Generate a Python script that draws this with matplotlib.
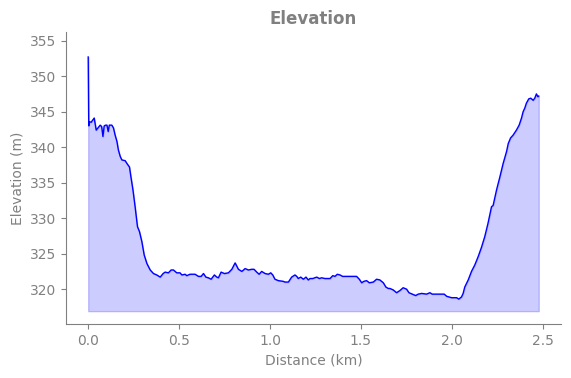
import matplotlib
matplotlib.use('Agg')
import matplotlib.pyplot as plt

# distance (km) and elevation (m)
dist_km = [
    0.000, 0.003, 0.006, 0.016, 0.033, 0.044, 0.057, 0.066, 0.074, 0.081,
    0.088, 0.096, 0.103, 0.110, 0.116, 0.130, 0.139, 0.148, 0.158, 0.166,
    0.176, 0.185, 0.203, 0.213, 0.227, 0.235, 0.246, 0.258, 0.271, 0.282,
    0.295, 0.308, 0.323, 0.341, 0.359, 0.377, 0.396, 0.412, 0.423, 0.441,
    0.456, 0.469, 0.487, 0.505, 0.515, 0.533, 0.542, 0.560, 0.588, 0.606,
    0.621, 0.634, 0.647, 0.661, 0.676, 0.694, 0.707, 0.716, 0.731, 0.749,
    0.771, 0.790, 0.808, 0.826, 0.845, 0.863, 0.881, 0.899, 0.912, 0.927,
    0.940, 0.954, 0.973, 0.991, 1.004, 1.015, 1.027, 1.046, 1.073, 1.082,
    1.101, 1.119, 1.137, 1.147, 1.155, 1.169, 1.183, 1.198, 1.210, 1.220,
    1.235, 1.257, 1.271, 1.284, 1.302, 1.330, 1.345, 1.357, 1.370, 1.385,
    1.399, 1.476, 1.491, 1.504, 1.516, 1.531, 1.546, 1.568, 1.586, 1.604,
    1.623, 1.637, 1.650, 1.659, 1.677, 1.696, 1.714, 1.732, 1.751, 1.764,
    1.782, 1.801, 1.815, 1.834, 1.861, 1.879, 1.892, 1.907, 1.958, 1.971,
    1.998, 2.026, 2.038, 2.053, 2.062, 2.071, 2.090, 2.108, 2.126, 2.145,
    2.163, 2.181, 2.199, 2.218, 2.227, 2.246, 2.264, 2.282, 2.301, 2.310,
    2.323, 2.337, 2.355, 2.370, 2.383, 2.392, 2.401, 2.410, 2.423, 2.434,
    2.447, 2.456, 2.465, 2.473, 2.478,
]
elev_m = [
    352.7, 343.0, 343.6, 343.5, 344.1, 342.4, 342.8, 343.1, 342.9, 341.5,
    343.0, 343.1, 343.1, 342.2, 343.1, 343.1, 342.7, 341.7, 340.8, 339.6,
    338.7, 338.2, 338.1, 337.7, 337.2, 335.8, 334.0, 331.6, 328.8, 328.1,
    326.7, 324.8, 323.6, 322.7, 322.2, 322.0, 321.7, 322.2, 322.4, 322.3,
    322.7, 322.7, 322.3, 322.3, 322.0, 322.1, 321.9, 322.1, 322.1, 321.8,
    321.8, 322.2, 321.7, 321.6, 321.4, 322.0, 321.7, 321.6, 322.4, 322.2,
    322.3, 322.8, 323.7, 322.8, 322.5, 322.9, 322.7, 322.8, 322.8, 322.4,
    322.1, 322.5, 322.2, 322.1, 322.3, 322.0, 321.4, 321.2, 321.1, 321.0,
    321.0, 321.7, 322.0, 321.8, 321.5, 321.7, 321.4, 321.7, 321.3, 321.5,
    321.5, 321.7, 321.5, 321.6, 321.5, 321.5, 321.9, 321.8, 322.1, 322.0,
    321.8, 321.8, 321.4, 320.9, 321.1, 321.2, 320.9, 321.0, 321.4, 321.3,
    320.9, 320.3, 320.1, 320.1, 319.9, 319.5, 319.8, 320.2, 320.0, 319.5,
    319.3, 319.1, 319.3, 319.4, 319.3, 319.5, 319.3, 319.3, 319.3, 319.0,
    318.8, 318.8, 318.6, 318.9, 319.4, 320.3, 321.3, 322.5, 323.4, 324.6,
    325.9, 327.4, 329.3, 331.6, 331.8, 334.0, 335.8, 337.7, 339.4, 340.5,
    341.3, 341.7, 342.4, 343.1, 344.1, 345.0, 345.5, 346.2, 346.8, 346.9,
    346.6, 346.9, 347.5, 347.1, 347.2,
]
base_m = 316.9

grey = '#808080'

fig, ax = plt.subplots(figsize=(5.71, 3.78), dpi=100)
ax.plot(dist_km, elev_m, color='blue', linewidth=1)
ax.fill_between(dist_km, elev_m, base_m, color='blue', alpha=0.2)

ax.set_ylim(315.1, 356.2)
ax.set_title('Elevation', color=grey, fontweight='bold', fontsize=12)
ax.set_xlabel('Distance (km)', color=grey)
ax.set_ylabel('Elevation (m)', color=grey)
ax.tick_params(colors=grey)
for side in ['top', 'right']:
    ax.spines[side].set_visible(False)
for side in ['left', 'bottom']:
    ax.spines[side].set_color(grey)

fig.subplots_adjust(left=0.115, right=0.983, bottom=0.143, top=0.915)
fig.savefig('out.png', dpi=100)
